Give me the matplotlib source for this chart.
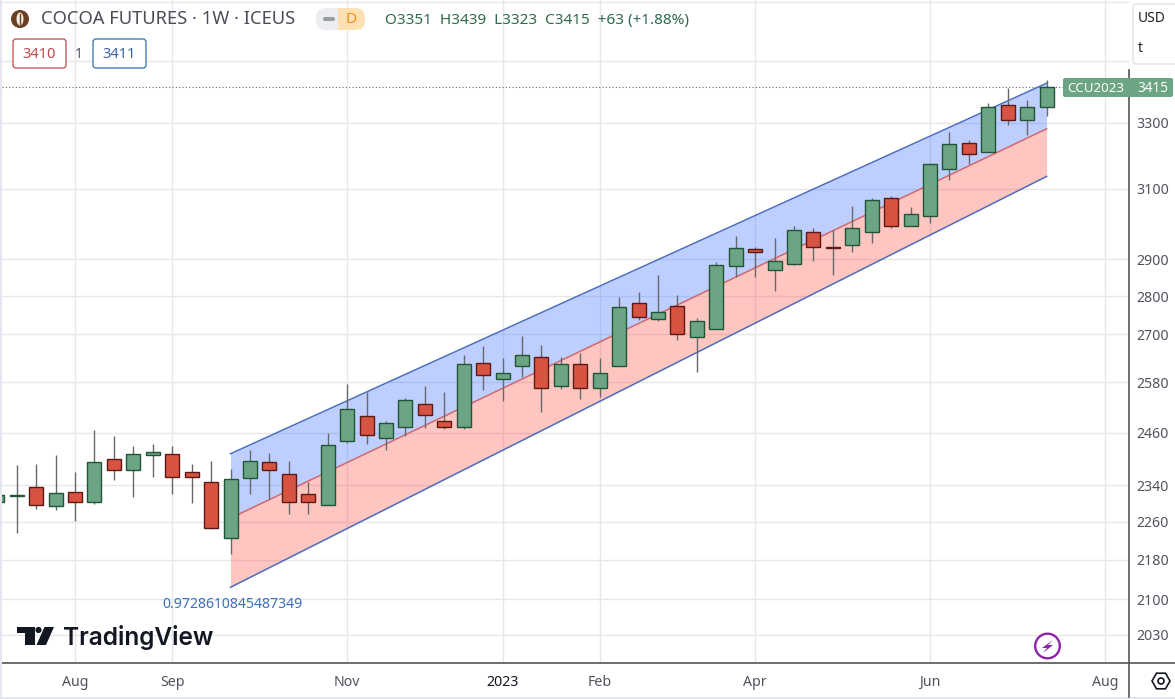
import numpy as np
import matplotlib
matplotlib.use("Agg")
import matplotlib.pyplot as plt
from matplotlib.patches import Circle, Ellipse, FancyBboxPatch, Polygon, Rectangle, RegularPolygon
from matplotlib.ticker import NullLocator

# weekly candles, Jul 2022 - Jul 2023
opens = [2303, 2317, 2335, 2295, 2326, 2304, 2400, 2373, 2409, 2411, 2370, 2348,
         2225, 2357, 2393, 2366, 2320, 2296, 2441, 2499, 2447, 2473, 2528, 2488,
         2472, 2629, 2587, 2621, 2642, 2572, 2626, 2567, 2621, 2783, 2741, 2773,
         2694, 2715, 2880, 2927, 2870, 2888, 2977, 2935, 2938, 2975, 3073, 2992,
         3020, 3158, 3238, 3209, 3356, 3308, 3351]
highs = [2318, 2385, 2387, 2409, 2369, 2467, 2453, 2428, 2434, 2428, 2387, 2394,
         2376, 2420, 2413, 2394, 2348, 2458, 2577, 2556, 2488, 2542, 2570, 2556,
         2649, 2670, 2640, 2697, 2674, 2644, 2654, 2640, 2797, 2811, 2856, 2803,
         2743, 2891, 2964, 2935, 2958, 2994, 2986, 2981, 3051, 3073, 3078, 3047,
         3176, 3271, 3247, 3362, 3413, 3372, 3439]
lows = [2303, 2237, 2288, 2286, 2261, 2299, 2351, 2314, 2358, 2321, 2301, 2244,
        2193, 2321, 2309, 2276, 2276, 2296, 2436, 2433, 2419, 2451, 2471, 2468,
        2468, 2561, 2535, 2592, 2508, 2564, 2540, 2544, 2621, 2738, 2735, 2686,
        2606, 2715, 2850, 2851, 2814, 2883, 2895, 2857, 2920, 2946, 2986, 2992,
        3002, 3126, 3173, 3209, 3293, 3262, 3323]
closes = [2318, 2319, 2296, 2322, 2304, 2393, 2373, 2411, 2415, 2359, 2359, 2247,
          2353, 2395, 2375, 2304, 2302, 2431, 2516, 2454, 2483, 2536, 2502, 2472,
          2626, 2599, 2604, 2649, 2567, 2626, 2567, 2604, 2770, 2746, 2759, 2702,
          2735, 2883, 2932, 2919, 2896, 2982, 2935, 2931, 2986, 3067, 2992, 3027,
          3173, 3235, 3204, 3352, 3308, 3352, 3415]

# regression channel, start and end
chan_x = [12, 54]
chan_upper = [2411, 3427]
chan_mid = [2268, 3282]
chan_lower = [2124, 3137]

price_ticks = [3700, 3500, 3300, 3100, 2900, 2800, 2700, 2580, 2460, 2340, 2260, 2180, 2100, 2030]
price_labels = ["", "", "3300", "3100", "2900", "2800", "2700", "2580", "2460", "2340", "2260", "2180", "2100", "2030"]
month_pos = [4, 9, 18, 26, 31, 39, 48, 57]
month_labels = ["Aug", "Sep", "Nov", "2023", "Feb", "Apr", "Jun", "Aug"]
last_price = 3415

GREEN = "#6ba583"
GREEN_EDGE = "#225437"
RED = "#d75442"
RED_EDGE = "#5b1a13"
GRID = "#e6e7e9"
FONT = "Noto Sans"

plt.rcParams["font.family"] = FONT

W, H = 1175, 699
fig = plt.figure(figsize=(W / 100, H / 100), dpi=100, facecolor="white")
ax = fig.add_axes([2 / W, (H - 663) / H, 1127 / W, 663 / H])
ax.set_yscale("log")

xs = np.arange(len(opens))
o = np.array(opens)
c = np.array(closes)
up = c >= o

ax.fill_between(chan_x, chan_mid, chan_upper, color="#2962ff", alpha=0.3, lw=0, zorder=2)
ax.fill_between(chan_x, chan_lower, chan_mid, color="#ff4f45", alpha=0.33, lw=0, zorder=2)
ax.plot(chan_x, chan_upper, color="#4a6fc0", lw=1.1, zorder=3)
ax.plot(chan_x, chan_mid, color="#d4676b", lw=1.1, zorder=3)
ax.plot(chan_x, chan_lower, color="#4a6fc0", lw=1.1, zorder=3)

ax.vlines(xs, lows, highs, color="#66686b", lw=1.0, zorder=4)
ax.bar(xs[up], (c - o)[up], bottom=o[up], width=0.72, color=GREEN, edgecolor=GREEN_EDGE, lw=1.0, zorder=5)
ax.bar(xs[~up], (o - c)[~up], bottom=c[~up], width=0.72, color=RED, edgecolor=RED_EDGE, lw=1.0, zorder=5)

ax.axhline(last_price, color="#55705f", lw=0.8, ls=(0, (1, 2)), zorder=3)

ax.set_xlim(0.24, 58.24)
ax.set_ylim(1976.7, 3708.6)
ax.yaxis.tick_right()
ax.set_yticks(price_ticks)
ax.set_yticklabels(price_labels)
ax.yaxis.set_minor_locator(NullLocator())
ax.set_xticks(month_pos)
ax.set_xticklabels(month_labels)
ax.grid(True, color=GRID, lw=1.0, zorder=0)
ax.set_axisbelow(True)
ax.tick_params(axis="both", length=0, labelsize=10.2, labelcolor="#50535e")
ax.tick_params(axis="y", pad=5.5)
ax.tick_params(axis="x", pad=8.5)
for lab in ax.get_xticklabels():
    if lab.get_text() == "2023":
        lab.set_fontweight("bold")
        lab.set_color("#131722")
for side in ["top", "left", "right"]:
    ax.spines[side].set_visible(False)
ax.spines["bottom"].set_color("#555555")
ax.spines["bottom"].set_linewidth(1.2)

# overlay in pixel coords for header, labels and logos
ov = fig.add_axes([0, 0, 1, 1], facecolor="none")
ov.set_xlim(0, W)
ov.set_ylim(H, 0)
ov.axis("off")

ov.add_patch(Rectangle((0, 0), 2, H, color="#e4e8ee", lw=0))
ov.add_patch(Rectangle((0, 697), W, 2, color="#e4e8ee", lw=0))
ov.plot([1129, 1129], [70, 697], color="#555555", lw=1.2)
ov.plot([1129, W], [663, 663], color="#555555", lw=1.2)

# header
ov.add_patch(Circle((20, 19), 9, color="#6b3f21", lw=0))
ov.add_patch(Ellipse((20, 19), 7, 13, fc="#f3ece6", ec="none"))
ov.plot([20, 20], [14, 24], color="#6b3f21", lw=1)
ov.text(41, 19.5, "COCOA FUTURES · 1W · ICEUS", fontsize=13.2, color="#4a4d57", va="center")
ov.add_patch(FancyBboxPatch((316, 8), 34, 22, boxstyle="round,pad=0,rounding_size=10", fc="#ecedf0", ec="none"))
ov.add_patch(FancyBboxPatch((340, 8), 25, 22, boxstyle="round,pad=0,rounding_size=10", fc="#ffe0b2", ec="none"))
ov.add_patch(Rectangle((338, 8), 12, 22, fc="#ffe0b2", ec="none"))
ov.add_patch(FancyBboxPatch((323, 17), 12, 4, boxstyle="round,pad=0,rounding_size=2", fc="#9a9da5", ec="none"))
ov.text(351, 19.5, "D", fontsize=11, color="#f09010", ha="center", va="center", fontweight="semibold")
ov.text(385, 20.5, "O3351  H3439  L3323  C3415  +63 (+1.88%)", fontsize=11, color="#2e6a4c", va="center")

ov.add_patch(FancyBboxPatch((13, 39), 53, 29, boxstyle="round,pad=0,rounding_size=3", fc="white", ec="#c0484c", lw=0.9))
ov.text(39.5, 54, "3410", fontsize=10.5, color="#c0484c", ha="center", va="center")
ov.text(79, 54, "1", fontsize=10, color="#50535e", ha="center", va="center")
ov.add_patch(FancyBboxPatch((93, 39), 53, 29, boxstyle="round,pad=0,rounding_size=3", fc="white", ec="#2f6fb0", lw=0.9))
ov.text(119.5, 54, "3411", fontsize=10.5, color="#3a62ac", ha="center", va="center")

# currency box and last price tag, tag sits over the axis line
ov.add_patch(FancyBboxPatch((1133, 4), 50, 60, boxstyle="round,pad=0,rounding_size=4", fc="white", ec="#e2e3e6", lw=1))
ov.text(1138, 18, "USD", fontsize=10, color="#222222", va="center")
ov.text(1138, 48, "t", fontsize=10, color="#222222", va="center")
ov.add_patch(FancyBboxPatch((1063, 78), 110, 19, boxstyle="round,pad=0,rounding_size=2", fc=GREEN, ec="none", zorder=6))
ov.text(1067, 88, "CCU2023", fontsize=9.6, color="white", va="center", fontweight="bold", zorder=7)
ov.text(1168, 88, "3415", fontsize=9.8, color="white", va="center", ha="right", fontweight="bold", zorder=7)

ov.text(162, 604, "0.9728610845487349", fontsize=10.1, color="#3a6fc0", va="center")

# watermark
ink = "#131722"
ov.add_patch(Polygon([(17, 627), (35, 627), (35, 645), (25, 645), (25, 633), (17, 633)], fc=ink, ec="none"))
ov.add_patch(Circle((38.5, 630), 3.1, fc=ink, ec="none"))
ov.add_patch(Polygon([(44.5, 627), (54, 627), (46, 645), (36.5, 645)], fc=ink, ec="none"))
ov.text(63, 645, "TradingView", fontsize=17.6, color=ink, family="Inter", fontweight="semibold", va="baseline")

# bolt and settings icons
ov.add_patch(Circle((1047.5, 646), 12.3, fc="white", ec="#8e24aa", lw=1.7))
ov.add_patch(Polygon([(1053, 640), (1042, 648), (1047, 648), (1043, 653), (1053, 645), (1048, 645)], fc="#8e24aa", ec="none"))
ov.add_patch(RegularPolygon((1161, 681), 6, radius=9, orientation=np.pi / 6, fc="white", ec="#131722", lw=1.2))
ov.add_patch(Circle((1161, 681), 3, fc="white", ec="#131722", lw=1.2))

fig.savefig("out.png", dpi=100)
